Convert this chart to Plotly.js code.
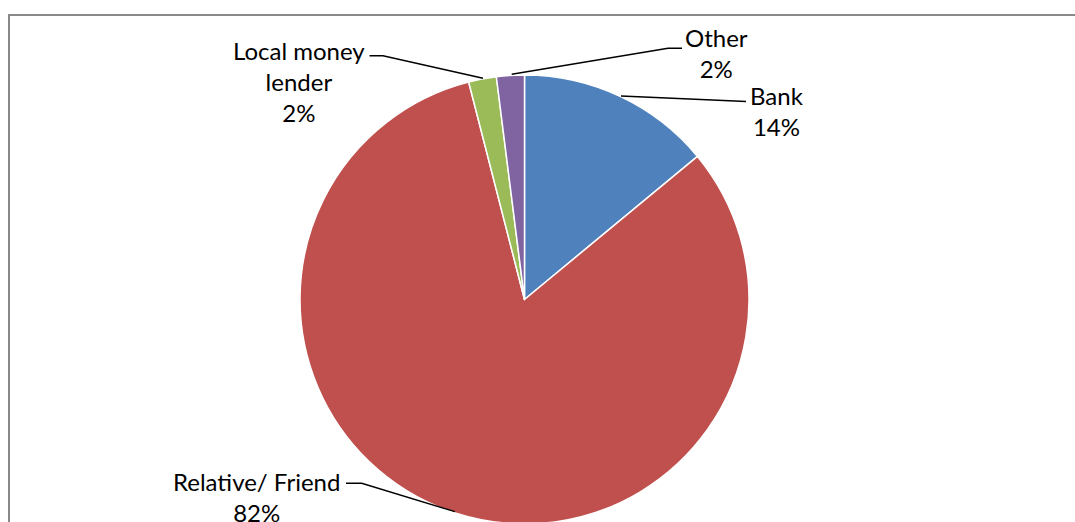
<!DOCTYPE html>
<html>
<head>
<meta charset="utf-8">
<script src="https://cdn.plot.ly/plotly-3.0.1.min.js"></script>
<style>
  html, body { margin: 0; padding: 0; overflow: hidden; background: #ffffff; }
  #chart { position: absolute; left: 0; top: 0; width: 1075px; height: 560px; }
</style>
</head>
<body>
<div id="chart"></div>
<script>
// ---- data ----
var categories = ['Bank', 'Relative/ Friend', 'Local money lender', 'Other'];
var labelLines = ['Bank', 'Relative/ Friend', 'Local money<br>lender', 'Other'];
var values = [14, 82, 2, 2];
var colors = ['#4F81BD', '#C0504D', '#9BBB59', '#8064A2'];

// ---- layout helpers (pixel -> paper) ----
var W = 1075, H = 560;
function px(x) { return x / W; }
function py(y) { return 1 - y / H; }

var total = values.reduce(function (a, b) { return a + b; }, 0);
function pctText(i) { return Math.round(values[i] / total * 100) + '%'; }

// label centres (pixels) and leader line paths (pixels)
var labelPos = [
  [777, 111.5],
  [256, 496.5],
  [299, 81],
  [716.5, 52.5]
];
var leaders = [
  [[746, 101.5], [735, 101], [621, 96]],
  [[346, 483.3], [361.7, 483.3], [455, 511.7]],
  [[369.5, 55.7], [383, 55.7], [483, 78.3]],
  [[682, 48.3], [668, 48.3], [511.7, 74.3]]
];

var font = { family: 'Lato, "Open Sans", sans-serif', size: 24, color: '#000000' };

var annotations = categories.map(function (c, i) {
  return {
    xref: 'paper', yref: 'paper',
    x: px(labelPos[i][0]), y: py(labelPos[i][1]),
    xanchor: 'center', yanchor: 'middle',
    text: labelLines[i] + '<br>' + pctText(i),
    showarrow: false,
    align: 'center',
    font: font
  };
});

var shapes = leaders.map(function (pts) {
  var d = pts.map(function (p, k) {
    return (k === 0 ? 'M ' : 'L ') + px(p[0]) + ' ' + py(p[1]);
  }).join(' ');
  return {
    type: 'path', xref: 'paper', yref: 'paper', path: d,
    line: { color: '#000000', width: 1.4 }
  };
});

// outer chart frame (cut off at right and bottom like the reference)
shapes.push({
  type: 'rect', xref: 'paper', yref: 'paper',
  x0: px(9), x1: px(1090), y0: py(600), y1: py(15),
  line: { color: '#898989', width: 2 },
  fillcolor: 'rgba(0,0,0,0)',
  layer: 'below'
});

var trace = {
  type: 'pie',
  labels: categories,
  values: values,
  sort: false,
  direction: 'clockwise',
  rotation: 0,
  textinfo: 'none',
  hoverinfo: 'label+percent',
  marker: { colors: colors, line: { color: '#ffffff', width: 1.5 } },
  domain: { x: [px(300), px(749)], y: [py(524), py(75)] },
  showlegend: false
};

var layout = {
  width: W, height: H,
  margin: { l: 0, r: 0, t: 0, b: 0, pad: 0 },
  paper_bgcolor: '#ffffff',
  plot_bgcolor: '#ffffff',
  showlegend: false,
  annotations: annotations,
  shapes: shapes
};

Plotly.newPlot('chart', [trace], layout, { displayModeBar: false, staticPlot: true });
</script>
</body>
</html>
